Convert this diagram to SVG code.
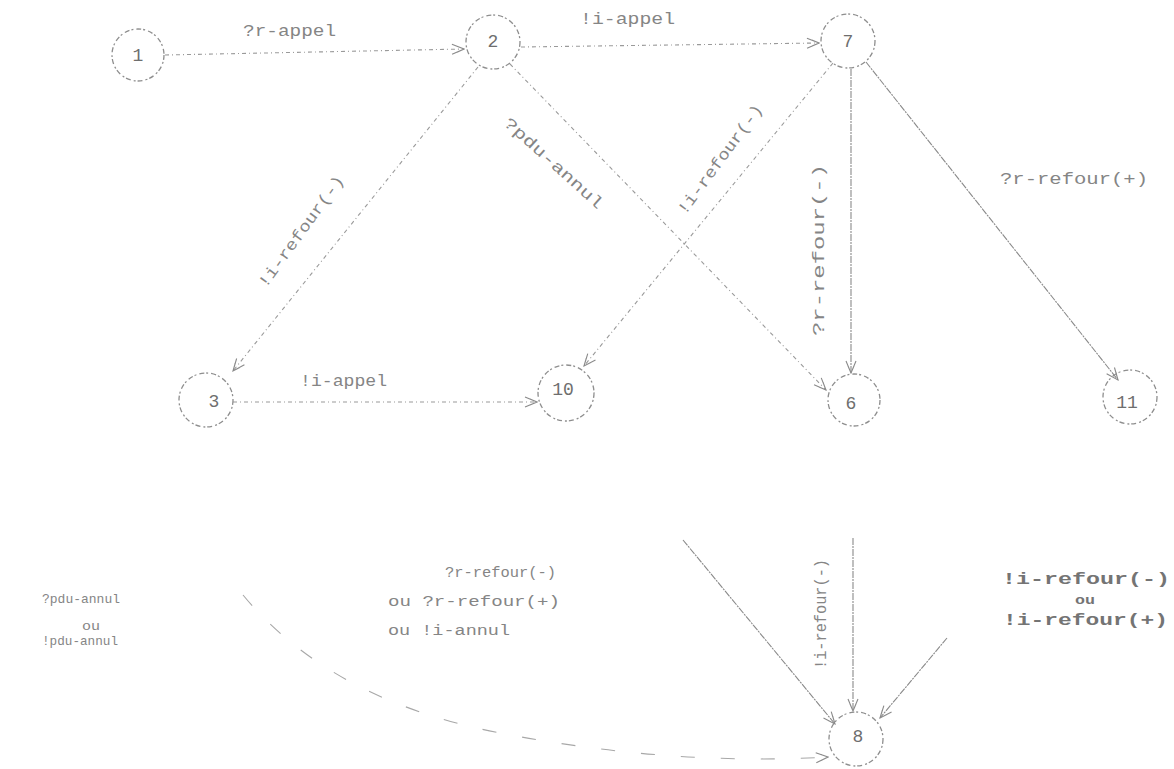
<svg xmlns="http://www.w3.org/2000/svg" width="1174" height="769" viewBox="0 0 1174 769">
  <style>
    .bg { fill: #ffffff; }
    .state { fill: none; stroke: #8e8e8e; stroke-width: 1.3; stroke-dasharray: 5 2 2 3; }
    .num { font-family: "Liberation Mono", "DejaVu Sans Mono", monospace; font-size: 18px; fill: #6e6e6e; text-anchor: middle; dominant-baseline: central; }
    .edge { fill: none; stroke: #9a9a9a; stroke-width: 1.1; stroke-dasharray: 4 3 1 3; marker-end: url(#head); }
    .edge.solid { stroke: #8a8a8a; stroke-dasharray: 7 1 2 1; }
    .edge.faint { stroke: #a8a8a8; stroke-dasharray: 14 26; }
    .lbl { font-family: "Liberation Mono", "DejaVu Sans Mono", monospace; font-size: 16px; fill: #858585; }
    .sm { font-size: 13px; }
    .md { font-size: 14px; }
    .big { font-size: 17px; font-weight: bold; fill: #747474; }
    .mid { text-anchor: middle; dominant-baseline: central; }
  </style>
  <defs>
    <marker id="head" viewBox="0 0 14 12" refX="13" refY="6" markerWidth="14" markerHeight="12" markerUnits="userSpaceOnUse" orient="auto">
      <path d="M1,1 L13,6 L1,11 M6,3 L13,6 L6,9" fill="none" stroke="#8a8a8a" stroke-width="1.1"/>
    </marker>
  </defs>

  <rect class="bg" x="0" y="0" width="1174" height="769"/>

  <!-- transitions -->
  <g id="connectors">
    <path class="edge" d="M165,55 L464,49"/>
    <path class="edge" d="M521,47 L819,43"/>
    <path class="edge" d="M478,67 L233,371"/>
    <path class="edge" d="M510,64 L826,390"/>
    <path class="edge" d="M833,63 L584,366"/>
    <path class="edge solid" d="M851,69 L851,373"/>
    <path class="edge solid" d="M866,62 L1118,380"/>
    <path class="edge" d="M233,402 L537,402"/>
    <path class="edge solid" d="M683,540 L835,724"/>
    <path class="edge solid" d="M853,538 L853,711"/>
    <path class="edge solid" d="M947,638 L880,718"/>
    <path class="edge faint" d="M243,595 Q330,700 500,733 T828,757"/>

    <!-- transition labels -->
    <text class="lbl" x="243" y="36" textLength="93" lengthAdjust="spacingAndGlyphs">?r-appel</text>
    <text class="lbl" x="580" y="24" textLength="95" lengthAdjust="spacingAndGlyphs">!i-appel</text>
    <text class="lbl" x="300" y="386" textLength="87" lengthAdjust="spacingAndGlyphs">!i-appel</text>
    <text class="lbl" x="1000" y="184" textLength="148" lengthAdjust="spacingAndGlyphs">?r-refour(+)</text>
    <text class="lbl mid" transform="translate(302,232) rotate(-54)" textLength="134" lengthAdjust="spacingAndGlyphs">!i-refour(-)</text>
    <text class="lbl mid" transform="translate(553,164) rotate(42)" textLength="128" lengthAdjust="spacingAndGlyphs">?pdu-annul</text>
    <text class="lbl mid" transform="translate(721,160) rotate(-53.6)" textLength="132" lengthAdjust="spacingAndGlyphs">!i-refour(-)</text>
    <text class="lbl mid" transform="translate(820,250) rotate(-90)" textLength="172" lengthAdjust="spacingAndGlyphs">?r-refour(-)</text>
    <text class="lbl mid" transform="translate(822,614) rotate(-90)" textLength="110" lengthAdjust="spacingAndGlyphs">!i-refour(-)</text>

    <text class="lbl sm" x="42" y="603" textLength="78" lengthAdjust="spacingAndGlyphs">?pdu-annul</text>
    <text class="lbl sm" x="82" y="630" textLength="18" lengthAdjust="spacingAndGlyphs">ou</text>
    <text class="lbl sm" x="42" y="645" textLength="76" lengthAdjust="spacingAndGlyphs">!pdu-annul</text>

    <text class="lbl md" x="445" y="577" textLength="111" lengthAdjust="spacingAndGlyphs">?r-refour(-)</text>
    <text class="lbl md" x="388" y="606" textLength="172" lengthAdjust="spacingAndGlyphs">ou ?r-refour(+)</text>
    <text class="lbl md" x="388" y="635" textLength="122" lengthAdjust="spacingAndGlyphs">ou !i-annul</text>

    <text class="lbl big" x="1002" y="584" textLength="168" lengthAdjust="spacingAndGlyphs">!i-refour(-)</text>
    <text class="lbl big" x="1075" y="604" textLength="20" lengthAdjust="spacingAndGlyphs" style="font-size:13px">ou</text>
    <text class="lbl big" x="1003" y="625" textLength="165" lengthAdjust="spacingAndGlyphs">!i-refour(+)</text>
  </g>

  <!-- states -->
  <g id="state-1"><circle class="state" cx="138" cy="55" r="26"/><text class="num" x="138" y="56">1</text></g>
  <g id="state-2"><circle class="state" cx="493" cy="42" r="27"/><text class="num" x="493" y="42">2</text></g>
  <g id="state-7"><circle class="state" cx="848" cy="41" r="27"/><text class="num" x="848" y="42">7</text></g>
  <g id="state-3"><circle class="state" cx="206" cy="400" r="27"/><text class="num" x="214" y="402">3</text></g>
  <g id="state-10"><circle class="state" cx="566" cy="393" r="28"/><text class="num" x="563" y="390">10</text></g>
  <g id="state-6"><circle class="state" cx="854" cy="400" r="26"/><text class="num" x="851" y="404">6</text></g>
  <g id="state-11"><circle class="state" cx="1130" cy="397" r="27"/><text class="num" x="1127" y="403">11</text></g>
  <g id="state-8"><circle class="state" cx="856" cy="739" r="27"/><text class="num" x="858" y="737">8</text></g>
</svg>
